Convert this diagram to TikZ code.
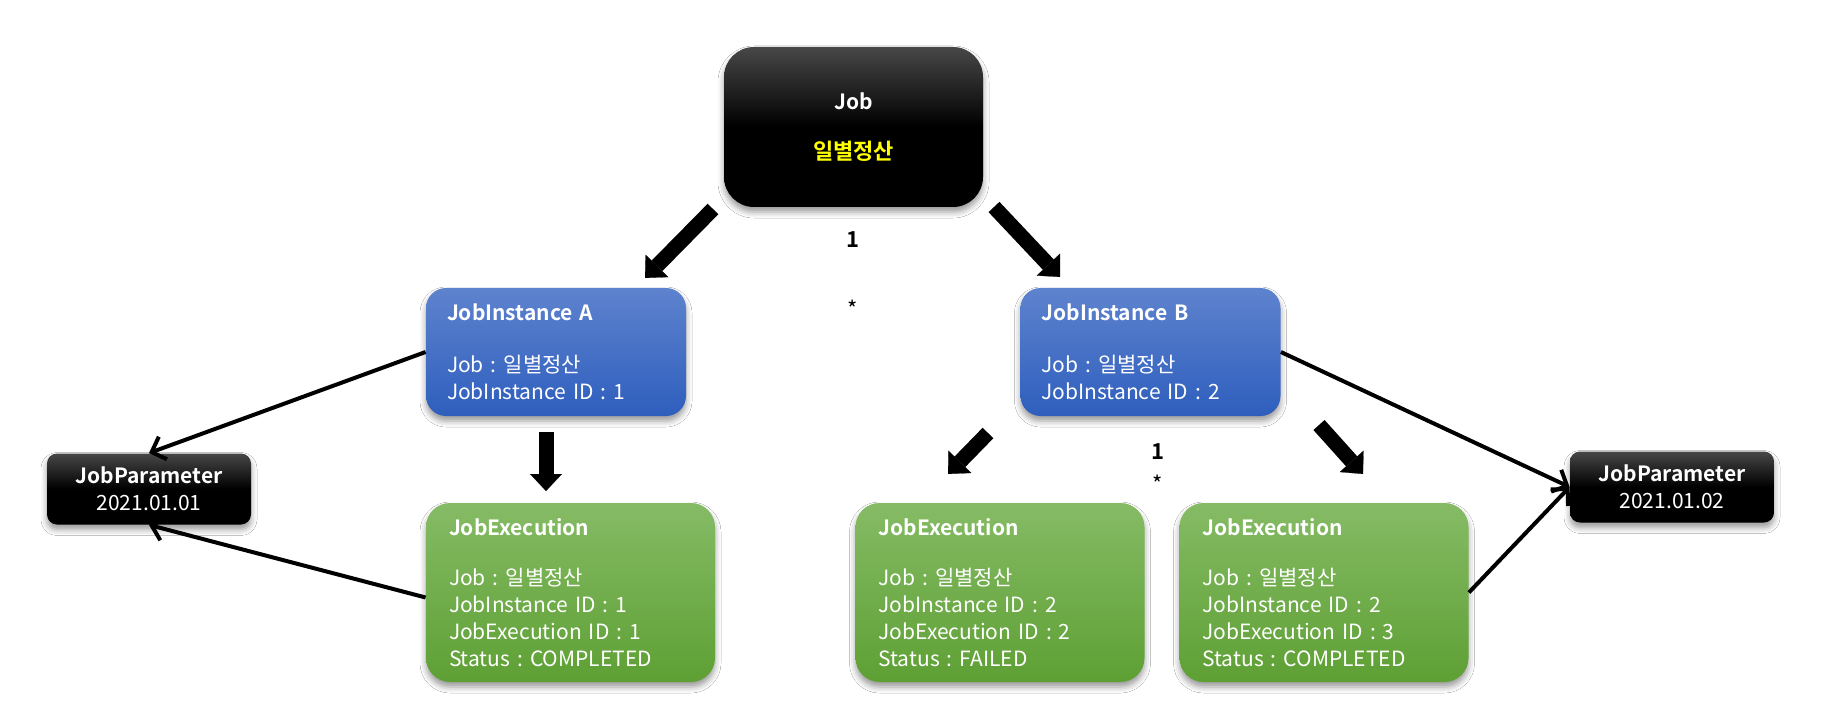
\documentclass[tikz,border=0pt]{standalone}
\usepackage{fontspec}
\IfFontExistsTF{Noto Sans CJK KR Bold}
  {\setmainfont{Noto Sans CJK KR}[BoldFont={Noto Sans CJK KR Bold}]}
  {\setmainfont{Noto Sans CJK KR}[AutoFakeBold=2.5]}
\usetikzlibrary{arrows.meta,shadows.blur}
\frenchspacing

\definecolor{instTop}{RGB}{94,131,206}
\definecolor{instBot}{RGB}{46,94,189}
\definecolor{execTop}{RGB}{133,187,101}
\definecolor{execBot}{RGB}{94,160,52}
\definecolor{jobYellow}{RGB}{255,255,0}

\newcommand{\boxtitle}[1]{{\fontsize{10.5}{13.5}\selectfont\bfseries #1}}

\tikzset{
  box/.style={rounded corners=10pt,text=white,inner ysep=0pt,align=left,
    font=\fontsize{10.5}{13.5}\selectfont,
    blur shadow={shadow xshift=0pt,shadow yshift=-2.5pt,shadow blur radius=3pt,shadow opacity=40}},
  jobbox/.style={box,align=center,rounded corners=15pt,top color=black!72,bottom color=black,
    middle color=black,minimum width=129.5pt,minimum height=80pt,inner xsep=0pt},
  instbox/.style={box,top color=instTop,bottom color=instBot,text width=109pt,
    inner xsep=10.5pt,minimum height=64pt},
  execbox/.style={box,rounded corners=12pt,top color=execTop,bottom color=execBot,
    text width=121.5pt,inner xsep=11.5pt,minimum height=89.5pt},
  parambox/.style={box,align=center,rounded corners=5pt,top color=black!72,bottom color=black,
    middle color=black,minimum width=102pt,minimum height=35.5pt,inner xsep=0pt},
  link/.style={line width=2pt,-{Straight Barb[length=6pt,width=12pt]}},
  blockarrow/.style={line width=7.5pt,black,-{Triangle[width=16pt,length=8.5pt,line width=0.1pt]}},
  mult/.style={font=\fontsize{11}{12}\selectfont}
}

\begin{document}
\begin{tikzpicture}[x=0.5pt,y=-0.5pt]
\useasboundingbox[fill=white] (0,0) rectangle (1831,727);
% boxes
\node[jobbox] (job) at (853.5,127) {\boxtitle{Job}\\[11.5pt]{\fontsize{11}{13.5}\selectfont\bfseries\color{jobYellow}일별정산}};
\node[instbox] (instA) at (556,352) {\boxtitle{JobInstance A}\\[12.5pt]Job : 일별정산\\JobInstance ID : 1};
\node[instbox] (instB) at (1150.5,352) {\boxtitle{JobInstance B}\\[12.5pt]Job : 일별정산\\JobInstance ID : 2};
\node[execbox] (exec1) at (570.5,592.5) {\boxtitle{JobExecution}\\[11.5pt]Job : 일별정산\\JobInstance ID : 1\\JobExecution ID : 1\\Status : COMPLETED};
\node[execbox] (exec2) at (1000,592.5) {\boxtitle{JobExecution}\\[11.5pt]Job : 일별정산\\JobInstance ID : 2\\JobExecution ID : 2\\Status : FAILED};
\node[execbox] (exec3) at (1324,592.5) {\boxtitle{JobExecution}\\[11.5pt]Job : 일별정산\\JobInstance ID : 2\\JobExecution ID : 3\\Status : COMPLETED};
\node[parambox] (param1) at (149,489) {\boxtitle{JobParameter}\\2021.01.01};
\node[parambox] (param2) at (1672,487) {\boxtitle{JobParameter}\\2021.01.02};
% multiplicities
\node[mult] (one1) at (853,240) {\bfseries 1};
\node[mult] (many1) at (853,309) {*};
\node[mult] (one2) at (1158,452) {\bfseries 1};
\node[mult] (many2) at (1158,484) {*};
% block arrows
\coordinate (toA-s) at (713,209);
\coordinate (toA-e) at (645,278);
\coordinate (toB-s) at (994,207);
\coordinate (toB-e) at (1060,277);
\coordinate (toE1-s) at (546,432);
\coordinate (toE1-e) at (546,491);
\coordinate (toE2-s) at (988,433);
\coordinate (toE2-e) at (948,474);
\coordinate (toE3-s) at (1319,425);
\coordinate (toE3-e) at (1363,474);
\draw[blockarrow] (toA-s) -- (toA-e);
\draw[blockarrow] (toB-s) -- (toB-e);
\draw[blockarrow] (toE1-s) -- (toE1-e);
\draw[blockarrow] (toE2-s) -- (toE2-e);
\draw[blockarrow] (toE3-s) -- (toE3-e);
% parameter links
\draw[link] (instA.west) -- (param1.north);
\draw[link] ([yshift=-2.5pt]exec1.west) -- (param1.south);
\draw[link] (instB.east) -- (param2.west);
\draw[link] (exec3.east) -- (param2.west);
\end{tikzpicture}
\end{document}
